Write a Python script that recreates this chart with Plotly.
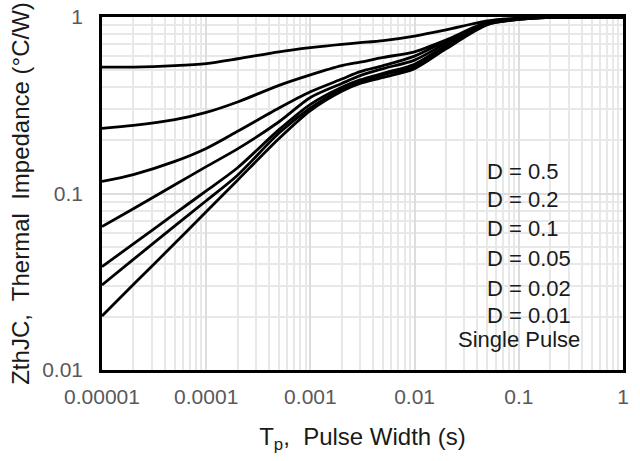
import plotly.graph_objects as go

# Pulse width (s)
pulse_width = [1e-5, 2e-5, 5e-5, 1e-4, 2e-4, 5e-4, 1e-3, 2e-3, 3e-3, 5e-3, 1e-2, 2e-2, 5e-2, 1e-1, 2e-1, 5e-1, 1]

# Zth (°C/W) for each duty cycle
z_d05 = [0.52, 0.52, 0.53, 0.545, 0.58, 0.635, 0.67, 0.70, 0.715, 0.735, 0.78, 0.845, 0.95, 0.985, 0.997, 1.0, 1.0]
z_d02 = [0.234, 0.243, 0.262, 0.288, 0.33, 0.41, 0.47, 0.53, 0.555, 0.59, 0.635, 0.74, 0.935, 0.98, 0.997, 1.0, 1.0]
z_d01 = [0.117, 0.128, 0.152, 0.18, 0.225, 0.305, 0.377, 0.445, 0.49, 0.53, 0.60, 0.73, 0.925, 0.98, 0.997, 1.0, 1.0]
z_d005 = [0.065, 0.082, 0.112, 0.142, 0.179, 0.255, 0.35, 0.42, 0.465, 0.51, 0.57, 0.71, 0.92, 0.975, 0.997, 1.0, 1.0]
z_d002 = [0.0385, 0.0518, 0.0769, 0.1035, 0.14, 0.23, 0.32, 0.40, 0.44, 0.48, 0.54, 0.69, 0.915, 0.975, 0.997, 1.0, 1.0]
z_d001 = [0.0303, 0.0423, 0.0655, 0.091, 0.127, 0.22, 0.305, 0.39, 0.43, 0.47, 0.525, 0.675, 0.91, 0.97, 0.997, 1.0, 1.0]
z_single = [0.0202, 0.0305, 0.0522, 0.0787, 0.119, 0.205, 0.295, 0.38, 0.42, 0.455, 0.51, 0.66, 0.905, 0.97, 0.997, 1.0, 1.0]

series = [z_d05, z_d02, z_d01, z_d005, z_d002, z_d001, z_single]
labels = ["D = 0.5", "D = 0.2", "D = 0.1", "D = 0.05", "D = 0.02", "D = 0.01", "Single Pulse"]

x_tickvals = [1e-5, 1e-4, 1e-3, 1e-2, 1e-1, 1]
x_ticktext = ["0.00001", "0.0001", "0.001", "0.01", "0.1", "1"]
y_tickvals = [0.01, 0.1, 1]
y_ticktext = ["0.01", "0.1", "1"]

fig = go.Figure()
for ys, name in zip(series, labels):
    fig.add_trace(go.Scatter(x=pulse_width, y=ys, mode="lines", name=name,
                             line=dict(color="black", width=2.8, shape="spline", smoothing=0.8),
                             showlegend=False, hoverinfo="skip"))

font_family = "Liberation Sans, Arial, sans-serif"
label_y = [0.561, 0.482, 0.40, 0.316, 0.231, 0.153, 0.085]
for i, (name, yy) in enumerate(zip(labels, label_y)):
    is_single = name == "Single Pulse"
    fig.add_annotation(x=(456 - 102) / 521 if is_single else (485 - 102) / 521, y=yy,
                       xref="paper", yref="paper", xanchor="left", yanchor="middle",
                       text=name, showarrow=False,
                       font=dict(family=font_family, size=22, color="#1a1a1a"))

grid_c = "#e8e8e8"
fig.update_xaxes(type="log", range=[-5, 0], tickvals=x_tickvals, ticktext=x_ticktext,
                 showgrid=True, gridcolor="#dddddd", gridwidth=1.6,
                 minor=dict(showgrid=True, gridcolor=grid_c, gridwidth=1.6, dtick="D1"),
                 showline=True, linecolor="black", linewidth=2.5, mirror=True,
                 ticks="", zeroline=False, automargin=False, ticklabelstandoff=6,
                 tickfont=dict(family=font_family, size=21, color="#595959"),
                 title=dict(text="T<sub>p</sub>,  Pulse Width (s)", standoff=22,
                            font=dict(family=font_family, size=24, color="#1a1a1a")))
fig.update_yaxes(type="log", range=[-2, 0], tickvals=y_tickvals, ticktext=y_ticktext,
                 showgrid=True, gridcolor="#dddddd", gridwidth=1.6,
                 minor=dict(showgrid=True, gridcolor=grid_c, gridwidth=1.6, dtick="D1"),
                 showline=True, linecolor="black", linewidth=2.5, mirror=True,
                 ticks="", zeroline=False, ticklabelstandoff=12, automargin=False,
                 tickfont=dict(family=font_family, size=21, color="#595959"),
                 title=dict(text="ZthJC,  Thermal  Impedance (°C/W)", standoff=6,
                            font=dict(family=font_family, size=24, color="#1a1a1a")))

fig.update_layout(width=640, height=461, margin=dict(l=102, r=17, t=17, b=91),
                  plot_bgcolor="white", paper_bgcolor="white")

fig.write_html("out.html", config={"displayModeBar": False},
               post_script="document.body.style.margin='0px';")
